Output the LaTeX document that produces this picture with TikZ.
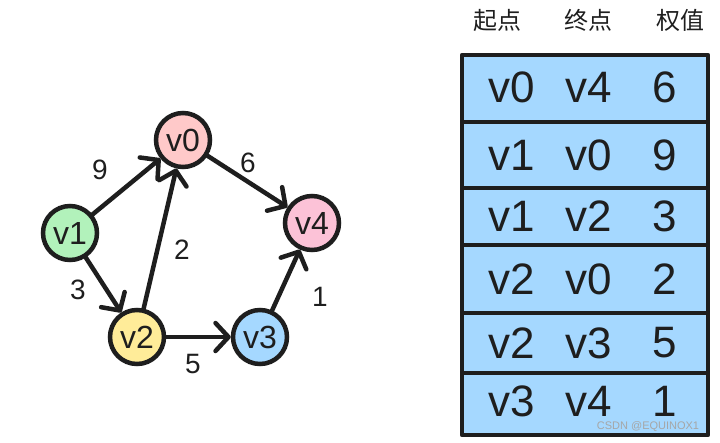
\documentclass[tikz,border=0pt]{standalone}
\usepackage{fontspec}
\setmainfont{Liberation Sans}
\newfontfamily\cjk{Noto Sans CJK SC}
\usepackage{tikz}
\usetikzlibrary{shapes,arrows.meta,positioning,calc}
\usepackage{xcolor}
\definecolor{ink}{HTML}{1E1E1E}
\definecolor{vred}{HTML}{FFC9C9}
\definecolor{vgreen}{HTML}{B2F2BB}
\definecolor{vyellow}{HTML}{FFEC99}
\definecolor{vblue}{HTML}{A5D8FF}
\definecolor{vpink}{HTML}{FCC2D7}

\begin{document}
\begin{tikzpicture}[x=1pt,y=-1pt,
    vertex/.style={circle, draw=ink, line width=4.5pt, minimum size=54pt, inner sep=0pt, text=ink, font=\fontsize{32}{32}\selectfont},
    edge/.style={draw=ink, line width=4.5pt, line cap=round, -{Straight Barb[round,length=13pt,width=28pt]}},
    weight/.style={text=ink, font=\fontsize{28}{28}\selectfont},
    head/.style={text=ink, font=\cjk\fontsize{24}{24}\selectfont},
    cell/.style={anchor=west, inner sep=0pt, text=ink, font=\fontsize{44}{44}\selectfont}]
    \useasboundingbox (0,0) rectangle (720,442);

    % Vertices
    \node[vertex, fill=vred] (v0) at (183,140) {v0};
    \node[vertex, fill=vgreen] (v1) at (70,233) {v1};
    \node[vertex, fill=vyellow] (v2) at (137,337) {v2};
    \node[vertex, fill=vblue] (v3) at (260,337) {v3};
    \node[vertex, fill=vpink] (v4) at (312,223) {v4};

    % Edges
    \draw[edge] (v1) -- (v0);
    \draw[edge] (v0) -- (v4);
    \draw[edge] (v2) -- (v0);
    \draw[edge] (v1) -- (v2);
    \draw[edge] (v2) -- (v3);
    \draw[edge] (v3) -- (v4);

    % Weights
    \node[weight] (w9) at (100,170) {9};
    \node[weight] (w6) at (248,163) {6};
    \node[weight] (w2) at (182,250) {2};
    \node[weight] (w3) at (78,290) {3};
    \node[weight] (w1) at (320,297) {1};
    \node[weight] (w5) at (193,364) {5};

    % Edge list header
    \node[head] (hfrom) at (497,20) {起点};
    \node[head] (hto) at (588,20) {终点};
    \node[head] (hweight) at (680,20) {权值};

    % Edge list table
    \draw[ink, line width=4.5pt, fill=vblue, line join=round] (462,55) rectangle (708,435);
    \foreach \y in {122,188,245,313,373}
        \draw[ink, line width=4.5pt] (462,\y) -- (708,\y);
    \foreach \a/\b/\c/\y in {v0/v4/6/87, v1/v0/9/155, v1/v2/3/216, v2/v0/2/279, v2/v3/5/343, v3/v4/1/401} {
        \node[cell] (from\y) at (488,\y) {\a};
        \node[cell] (to\y) at (565,\y) {\b};
        \node[cell] (wt\y) at (652,\y) {\c};
    }

    \node[gray!70, inner sep=0pt, font=\fontsize{11}{11}\selectfont] (mark) at (648,427) {CSDN @EQUINOX1};
\end{tikzpicture}
\end{document}
